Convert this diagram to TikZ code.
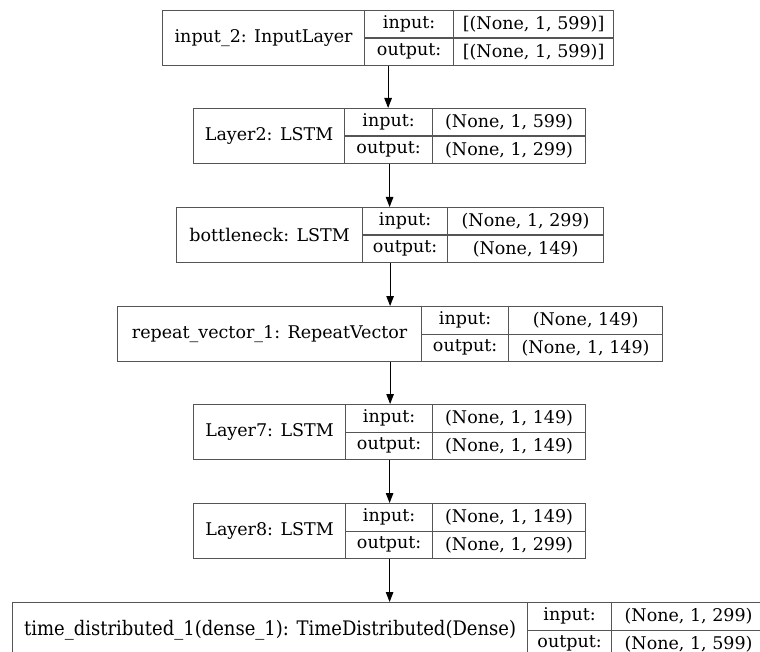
\documentclass[tikz,border=0pt]{standalone}
\usepackage{fontspec}
\setmainfont{DejaVu Serif}
\newfontfamily\condserif{DejaVu Serif Condensed}
\usepackage{tikz}
\usetikzlibrary{arrows.meta}
\definecolor{kerasline}{HTML}{555555}
% one layer: name, left, split1, split2, right, top, label, input, output
\newcommand{\kerasbox}[9]{%
  \node[cell, minimum width={(#5-#2)*1pt}, minimum height=55pt] (#1) at (#2,#6) {};
  \node[cell, minimum width={(#3-#2)*1pt}, minimum height=55pt] (#1name) at (#2,#6) {#7};
  \node[cell, minimum width={(#4-#3)*1pt}, minimum height=27.5pt] (#1inport) at (#3,#6) {input:};
  \node[cell, minimum width={(#4-#3)*1pt}, minimum height=27.5pt] (#1outport) at (#3,#6+27.5) {output:};
  \node[cell, minimum width={(#5-#4)*1pt}, minimum height=27.5pt] (#1inval) at (#4,#6) {#8};
  \node[cell, minimum width={(#5-#4)*1pt}, minimum height=27.5pt] (#1outval) at (#4,#6+27.5) {#9};
}

\begin{document}
\begin{tikzpicture}[
  x=1pt, y=-1pt,
  font=\fontsize{17.5}{20}\selectfont,
  cell/.style={draw=kerasline, line width=1.2pt, anchor=north west, inner sep=0pt},
  arr/.style={-{Triangle[length=10pt, width=7.5pt]}, line width=1pt, draw=black}
]
\useasboundingbox (0,0) rectangle (760,652);
\kerasbox{input2}{162}{364}{453}{613}{10}{input\_2: InputLayer}{[(None, 1, 599)]}{[(None, 1, 599)]}
\kerasbox{layer2}{193}{344}{432}{585}{108}{Layer2: LSTM}{(None, 1, 599)}{(None, 1, 299)}
\kerasbox{bottleneck}{176}{362}{447}{603}{207}{bottleneck: LSTM}{(None, 1, 299)}{(None, 149)}
\kerasbox{repeat}{117}{421}{508}{662}{306}{repeat\_vector\_1: RepeatVector}{(None, 149)}{(None, 1, 149)}
\kerasbox{layer7}{193}{345}{432}{585}{404}{Layer7: LSTM}{(None, 1, 149)}{(None, 1, 149)}
\kerasbox{layer8}{193}{345}{432}{585}{503}{Layer8: LSTM}{(None, 1, 149)}{(None, 1, 299)}
\kerasbox{timedist}{12}{527}{611}{765}{602}{{\condserif\fontsize{20}{22}\selectfont time\_distributed\_1(dense\_1): TimeDistributed(Dense)}}{(None, 1, 299)}{(None, 1, 599)}
\draw[arr] (input2.south) -- (input2.south |- layer2.north);
\draw[arr] (layer2.south) -- (layer2.south |- bottleneck.north);
\draw[arr] (bottleneck.south) -- (bottleneck.south |- repeat.north);
\draw[arr] (repeat.south) -- (repeat.south |- layer7.north);
\draw[arr] (layer7.south) -- (layer7.south |- layer8.north);
\draw[arr] (layer8.south) -- (layer8.south |- timedist.north);
\end{tikzpicture}
\end{document}
